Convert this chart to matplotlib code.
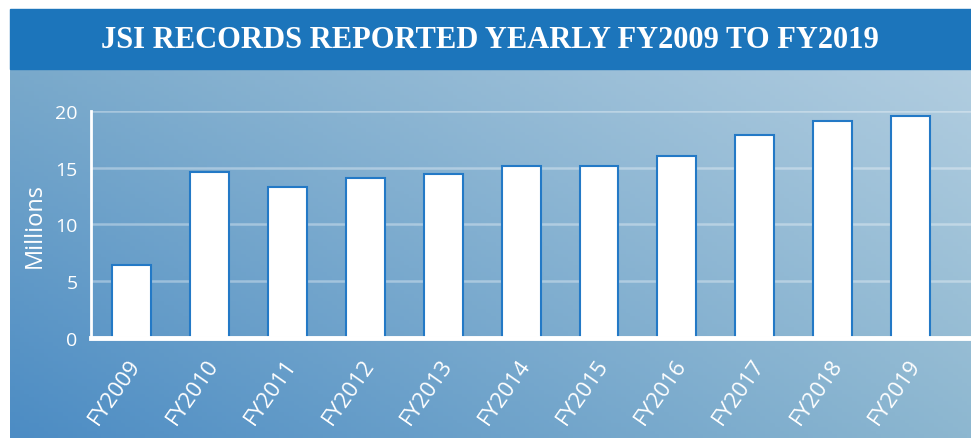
import matplotlib.pyplot as plt
import matplotlib.transforms as mtransforms
import numpy as np
from matplotlib.patches import Rectangle

years = ["FY2009", "FY2010", "FY2011", "FY2012", "FY2013", "FY2014",
         "FY2015", "FY2016", "FY2017", "FY2018", "FY2019"]
records = [6.43, 14.59, 13.27, 14.06, 14.41, 15.11, 15.11, 15.99, 17.83, 19.09, 19.5]
yticks = [0, 5, 10, 15, 20]

W, H = 971, 439
fig = plt.figure(figsize=(W / 100, H / 100), dpi=100)
fig.patch.set_facecolor("white")

# gradient panel below the banner
bg = fig.add_axes([10 / W, 0, (W - 10) / W, 369 / H])
bg.set_axis_off()
c_bl = np.array([0x4c, 0x8c, 0xc4]) / 255
c_tl = np.array([0x79, 0xa9, 0xcb]) / 255
c_br = np.array([0x8d, 0xb7, 0xd0]) / 255
c_tr = np.array([0xb1, 0xcd, 0xe0]) / 255
xs = np.linspace(0, 1, 200)[None, :, None]
ys = np.linspace(0, 1, 100)[:, None, None]
img = (c_bl * (1 - xs) * (1 - ys) + c_br * xs * (1 - ys)
       + c_tl * (1 - xs) * ys + c_tr * xs * ys)
bg.imshow(img, origin="lower", aspect="auto", extent=[0, 1, 0, 1])

# title banner
fig.patches.append(Rectangle((10 / W, (H - 70) / H), (W - 10) / W, 60 / H,
                             transform=fig.transFigure, color="#1c75bb", zorder=0))
fig.text(0.505, (H - 41) / H, "JSI RECORDS REPORTED YEARLY FY2009 TO FY2019",
         ha="center", va="center", color="white", fontsize=22,
         fontweight="bold", family="Liberation Serif")

ax = fig.add_axes([91.3 / W, 100 / H, 1 - 91.3 / W, 227.3 / H])
ax.patch.set_alpha(0)
x = np.arange(len(years))
ax.bar(x, records, width=0.5, color="white", edgecolor="#2379c6", linewidth=1.5, zorder=2)
ax.set_xlim(-0.51, 10.77)
ax.set_ylim(0, 20)
ax.set_yticks(yticks)
ax.yaxis.grid(True, color="white", alpha=0.35, linewidth=1.8, zorder=0)
ax.set_axisbelow(True)

for s in ["top", "right"]:
    ax.spines[s].set_visible(False)
ax.spines["left"].set_color("white")
ax.spines["left"].set_linewidth(2)
ax.spines["bottom"].set_color("white")
ax.spines["bottom"].set_linewidth(3.5)
ax.spines["bottom"].set_zorder(3)

ax.tick_params(length=0, colors="white")
ax.set_yticklabels([str(v) for v in yticks], fontsize=14, family="Open Sans", color="white")
ax.set_xticks(x)
ax.set_xticklabels(years, rotation=55, ha="right", va="center", rotation_mode="anchor",
                   fontsize=16, family="Open Sans", color="white")
ax.tick_params(axis="x", pad=16)
ax.tick_params(axis="y", pad=10)
ax.set_ylabel("Millions", fontsize=17, family="Open Sans", color="white", labelpad=6)

# nudge rotated labels a little to the right
shift = mtransforms.ScaledTranslation(5 / 100, 0, fig.dpi_scale_trans)
for lab in ax.get_xticklabels():
    lab.set_transform(lab.get_transform() + shift)

fig.savefig("out.png", dpi=100)
